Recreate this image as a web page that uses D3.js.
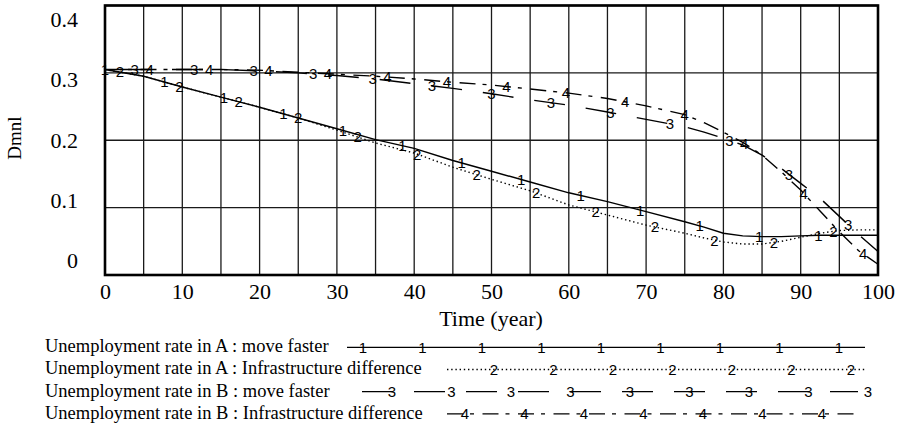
<!DOCTYPE html>
<html><head><meta charset="utf-8">
<script src="https://cdn.jsdelivr.net/npm/d3@7"></script>
<style>
html,body{margin:0;padding:0;background:#fff;}
svg{display:block;}
</style></head><body>
<svg id="chart" width="898" height="428"></svg>
<script>
// Simulation output, sampled in years
const times = [0,5,10,15,20,25,30,35,40,45,50,55,60,65,70,75,77.5,80,82.5,85,87.5,90,92.5,95,97.5,100];
const aMoveFaster = [0.305,0.295,0.279,0.264,0.249,0.233,0.217,0.201,0.188,0.170,0.154,0.138,0.122,0.109,0.094,0.079,0.071,0.062,0.058,0.057,0.057,0.058,0.059,0.059,0.059,0.059];
const aInfrastructure = [0.305,0.295,0.279,0.264,0.249,0.233,0.215,0.196,0.181,0.160,0.142,0.125,0.104,0.089,0.074,0.062,0.055,0.049,0.046,0.046,0.050,0.056,0.062,0.066,0.067,0.067];
const bMoveFaster = [0.305,0.305,0.305,0.305,0.303,0.300,0.296,0.291,0.284,0.277,0.269,0.260,0.252,0.242,0.231,0.220,0.212,0.203,0.193,0.178,0.158,0.136,0.114,0.087,0.060,0.035];
const bInfrastructure = [0.305,0.305,0.305,0.305,0.304,0.301,0.298,0.295,0.291,0.286,0.282,0.276,0.270,0.262,0.251,0.238,0.226,0.212,0.197,0.178,0.153,0.126,0.095,0.064,0.036,0.016];

const seriesNames = [
  "Unemployment rate in A : move faster",
  "Unemployment rate in A : Infrastructure difference",
  "Unemployment rate in B : move faster",
  "Unemployment rate in B : Infrastructure difference"
];
const seriesIds = ["1","2","3","4"];
const xTicks = [0,10,20,30,40,50,60,70,80,90,100];
const xGrid = d3.range(0, 101, 5);
const yTicks = [0,0.1,0.2,0.3,0.4];
const yTickLabels = ["0","0.1","0.2","0.3","0.4"];
const xTitle = "Time (year)";
const yTitle = "Dmnl";

const seriesValues = [aMoveFaster, aInfrastructure, bMoveFaster, bInfrastructure];

// Pen styles per series
const dashes = [null, "1.4,2.8", "31,21", "16,7,4,8.5"];
const dashOffsets = [0, 0, 37, 0];

const svg = d3.select("#chart");
const serif = "'Liberation Serif','Times New Roman',serif";
const sans = "'Liberation Sans',Arial,sans-serif";

const plot = {left:105, right:878, top:5.5, bottom:275};
const x = d3.scaleLinear().domain([0,100]).range([plot.left, plot.right]);
const y = d3.scaleLinear().domain([0,0.4]).range([plot.bottom, plot.top]);
// Value labels sit inset from the frame edges
const yLabel = d3.scaleLinear().domain([0,0.4]).range([260.5, 19.5]);

// Grid
const grid = svg.append("g");
grid.selectAll("line.v").data(xGrid).join("line")
  .attr("x1", d => x(d)).attr("x2", d => x(d))
  .attr("y1", plot.top).attr("y2", plot.bottom)
  .attr("stroke", "#1a1a1a").attr("stroke-width", 1.3);
grid.selectAll("line.h").data(yTicks).join("line")
  .attr("x1", plot.left).attr("x2", plot.right)
  .attr("y1", d => y(d)).attr("y2", d => y(d))
  .attr("stroke", "#1a1a1a").attr("stroke-width", 1.3);

// Y axis labels
const yAxis = svg.append("g").attr("transform", "translate(80,0)")
  .call(d3.axisLeft(yLabel).tickValues(yTicks).tickSize(0).tickPadding(2)
    .tickFormat((d,i) => yTickLabels[i]));
yAxis.select(".domain").remove();
yAxis.selectAll("text").attr("font-family", serif).attr("font-size", 22).attr("fill", "#000");

// X axis labels
const xAxis = svg.append("g").attr("transform", `translate(0,${plot.bottom})`)
  .call(d3.axisBottom(x).tickValues(xTicks).tickSize(0).tickPadding(8));
xAxis.select(".domain").remove();
xAxis.selectAll("text").attr("font-family", serif).attr("font-size", 22).attr("fill", "#000");

svg.append("text").attr("x", 491).attr("y", 326).attr("text-anchor", "middle")
  .attr("font-family", serif).attr("font-size", 22).text(xTitle);
svg.append("text").attr("transform", "translate(21,138) rotate(-90)").attr("text-anchor", "middle")
  .attr("font-family", serif).attr("font-size", 19).text(yTitle);

// Series lines
const line = d3.line().x(d => x(d[0])).y(d => y(d[1]));
const lines = svg.append("g");
seriesValues.forEach((vals, i) => {
  const pts = times.map((t, j) => [t, vals[j]]);
  lines.append("path").datum(pts).attr("d", line)
    .attr("fill", "none").attr("stroke", "#000").attr("stroke-width", 1.4)
    .attr("stroke-dasharray", dashes[i]).attr("stroke-dashoffset", dashOffsets[i]);
});

// Series number markers along each line
const bis = d3.bisector(d => d).right;
function valueAt(vals, t) {
  const j = Math.min(Math.max(bis(times, t), 1), times.length - 1);
  const t0 = times[j-1], t1 = times[j];
  return vals[j-1] + (vals[j] - vals[j-1]) * (t - t0) / (t1 - t0);
}
const markerStep = 100 / 13;
seriesValues.forEach((vals, i) => {
  const ts = d3.range(0, 13).map(k => (k + i / 4) * markerStep);
  lines.selectAll(null).data(ts).join("text")
    .attr("x", t => x(t)).attr("y", t => y(valueAt(vals, t)))
    .attr("text-anchor", "middle").attr("dy", "0.36em")
    .attr("font-family", sans).attr("font-size", 15).attr("fill", "#000").text(seriesIds[i]);
});

// Frame
svg.append("rect").attr("x", plot.left).attr("y", plot.top)
  .attr("width", plot.right - plot.left).attr("height", plot.bottom - plot.top)
  .attr("fill", "none").attr("stroke", "#000").attr("stroke-width", 2.6);

// Legend
const legend = svg.append("g");
const legStart = [347, 447, 347, 447];
const legEnd = [865, 865, 858, 855];
const legMarkerOffset = [16, 47, 45, 18];
const legStep = 59.5;
seriesNames.forEach((name, i) => {
  const ly = 347.3 + 22.2 * i;
  legend.append("text").attr("x", 45).attr("y", 352 + 22.3 * i)
    .attr("font-family", serif).attr("font-size", 18.5).text(name);
  legend.append("line").attr("x1", legStart[i]).attr("x2", legEnd[i])
    .attr("y1", ly).attr("y2", ly)
    .attr("stroke", "#000").attr("stroke-width", 1.3)
    .attr("stroke-dasharray", dashes[i]).attr("stroke-dashoffset", dashOffsets[i]);
  const mx = d3.range(legStart[i] + legMarkerOffset[i], 872, legStep);
  legend.selectAll(null).data(mx).join("text")
    .attr("x", d => d).attr("y", ly).attr("dy", "0.36em")
    .attr("text-anchor", "middle").attr("font-family", sans).attr("font-size", 15)
    .attr("fill", "#000").text(seriesIds[i]);
});
</script>
</body></html>
